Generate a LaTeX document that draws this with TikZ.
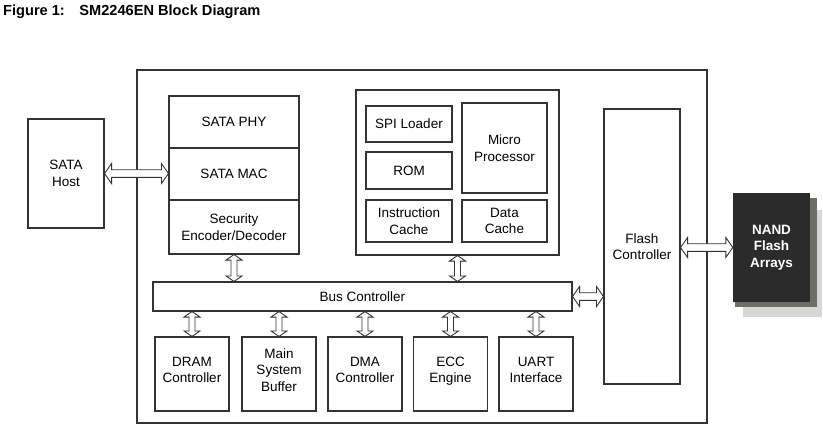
\documentclass[tikz,border=0pt]{standalone}
\usepackage{fontspec}
\setmainfont{Liberation Sans}
\usetikzlibrary{calc}
\definecolor{linec}{HTML}{333333}
\definecolor{nandfront}{HTML}{2B2B2B}
\definecolor{nandmid}{HTML}{6E6E66}
\definecolor{nandback}{HTML}{D6D6D6}
\tikzset{
  box/.style={draw=linec, line width=1.1pt, fill=white, align=center, inner sep=0pt,
     font=\fontsize{13.5}{16.5}\selectfont},
  dbl/.style={draw=linec, line width=0.9pt, fill=white, line join=miter},
}
\newcommand\varrow[2]{%
  \draw[dbl] let \p1=(#1), \p2=(#2) in
    (\x1,\y1) -- (\x1-8pt,\y1-5.5pt) -- (\x1-3pt,\y1-5.5pt) -- (\x1-3pt,\y2+5.5pt)
    -- (\x1-8pt,\y2+5.5pt) -- (\x1,\y2) -- (\x1+8pt,\y2+5.5pt) -- (\x1+3pt,\y2+5.5pt)
    -- (\x1+3pt,\y1-5.5pt) -- (\x1+8pt,\y1-5.5pt) -- cycle;}
\newcommand\harrow[2]{%
  \draw[dbl] let \p1=(#1), \p2=(#2) in
    (\x1,\y1) -- (\x1+7pt,\y1+10pt) -- (\x1+7pt,\y1+3.8pt) -- (\x2-7pt,\y1+3.8pt)
    -- (\x2-7pt,\y1+10pt) -- (\x2,\y1) -- (\x2-7pt,\y1-10pt) -- (\x2-7pt,\y1-3.8pt)
    -- (\x1+7pt,\y1-3.8pt) -- (\x1+7pt,\y1-10pt) -- cycle;}
\begin{document}
\begin{tikzpicture}[x=1pt,y=-1pt]
\useasboundingbox (0,0) rectangle (823,434);
% title
\node[anchor=west, inner sep=0pt, font=\fontsize{14.6}{17}\selectfont\bfseries] (title) at (3,12)
  {Figure 1:\hspace{1.0em}SM2246EN Block Diagram};
% outer chip box
\node[box, minimum width=570, minimum height=353] (chip) at (422,246.5) {};
% SATA host
\node[box, minimum width=76, minimum height=109] (host) at (66,173.5) {SATA\\Host};
% SATA column
\node[box, minimum width=130, minimum height=52] (phy) at (234,122) {SATA PHY};
\node[box, minimum width=130, minimum height=52] (mac) at (234,174) {SATA MAC};
\node[box, minimum width=130, minimum height=54] (sec) at (234,227) {Security\\Encoder/Decoder};
% CPU block
\node[box, minimum width=203, minimum height=165] (cpu) at (457.5,172.5) {};
\node[box, minimum width=86, minimum height=36] (spi) at (409,124) {SPI Loader};
\node[box, minimum width=86, minimum height=37] (rom) at (409,170.5) {ROM};
\node[box, minimum width=86, minimum height=42] (icache) at (409,221) {Instruction\\Cache};
\node[box, minimum width=85, minimum height=90] (micro) at (504.5,148) {Micro\\Processor};
\node[box, minimum width=85, minimum height=42] (dcache) at (504.5,221) {Data\\Cache};
% bus controller
\node[box, minimum width=419, minimum height=29] (bus) at (362.5,296.5) {Bus Controller};
% bottom blocks
\tikzset{low/.style={box, minimum width=74, minimum height=74, text depth=8pt}}
\node[low] (dram) at (192,374) {DRAM\\Controller};
\node[low] (buf) at (279,374) {Main\\System\\Buffer};
\node[low] (dma) at (365,374) {DMA\\Controller};
\node[low] (ecc) at (450.5,374) {ECC\\Engine};
\node[low] (uart) at (536,374) {UART\\Interface};
% flash controller
\node[box, minimum width=76, minimum height=275] (flash) at (642,246.5) {Flash\\Controller};
% NAND stack
\fill[nandback] (743,210) rectangle (822,317);
\fill[nandmid] (735,198) rectangle (817,307);
\node[fill=nandfront, text=white, align=center, inner sep=0pt, minimum width=77, minimum height=109,
  font=\fontsize{13.5}{16.5}\selectfont\bfseries] (nand) at (771.5,247.5) {NAND\\Flash\\Arrays};
% connectors
\harrow{host.east}{mac.west}
\harrow{bus.east}{flash.west |- bus.east}
\harrow{flash.east |- nand.west}{nand.west}
\varrow{sec.south}{sec.south |- bus.north}
\varrow{cpu.south}{cpu.south |- bus.north}
\varrow{dram.north |- bus.south}{dram.north}
\varrow{buf.north |- bus.south}{buf.north}
\varrow{dma.north |- bus.south}{dma.north}
\varrow{ecc.north |- bus.south}{ecc.north}
\varrow{uart.north |- bus.south}{uart.north}
\end{tikzpicture}
\end{document}
